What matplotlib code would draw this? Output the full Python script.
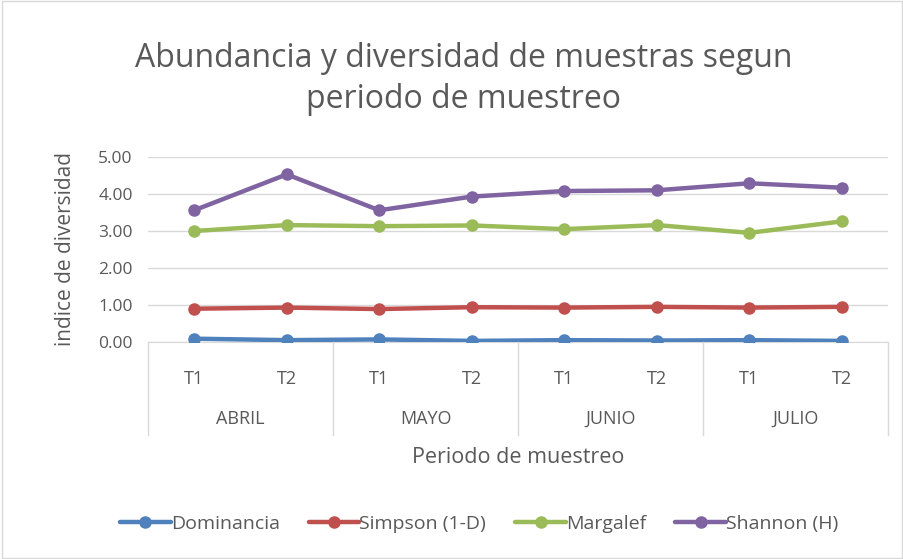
import matplotlib
matplotlib.use("Agg")
import matplotlib.pyplot as plt
from matplotlib.patches import Rectangle
from matplotlib.ticker import FormatStrFormatter
import matplotlib.transforms as mtransforms

# data
months = ["ABRIL", "MAYO", "JUNIO", "JULIO"]
periods = ["T1", "T2"]
dominancia = [0.09, 0.05, 0.07, 0.03, 0.05, 0.04, 0.05, 0.03]
simpson = [0.90, 0.93, 0.89, 0.94, 0.93, 0.95, 0.93, 0.95]
margalef = [3.00, 3.16, 3.13, 3.15, 3.05, 3.16, 2.95, 3.26]
shannon = [3.56, 4.53, 3.56, 3.93, 4.08, 4.10, 4.29, 4.17]

series = [
    ("Dominancia", dominancia, "#4F81BD"),
    ("Simpson (1-D)", simpson, "#C0504D"),
    ("Margalef", margalef, "#9BBB59"),
    ("Shannon (H)", shannon, "#8064A2"),
]

plt.rcParams["font.family"] = ["Open Sans", "DejaVu Sans"]
txt = "#595959"
grid = "#D9D9D9"

W, H = 904, 559
fig = plt.figure(figsize=(W / 100, H / 100), dpi=100)
fig.patches.append(Rectangle((0.002, 0.002), 0.996, 0.996, transform=fig.transFigure,
                             fill=False, edgecolor=grid, lw=1))

# plot area in pixels: left 148, right 888, top 157, bottom 342
ax = fig.add_axes([148 / W, 1 - 342 / H, 740 / W, 185 / H])
x = list(range(len(dominancia)))
for name, vals, col in series:
    ax.plot(x, vals, color=col, lw=3.2, marker="o", ms=8, label=name,
            solid_capstyle="round")

ax.set_xlim(-0.5, len(x) - 0.5)
ax.set_ylim(0, 5)
ax.set_yticks([0, 1, 2, 3, 4, 5])
ax.yaxis.set_major_formatter(FormatStrFormatter("%.2f"))
ax.tick_params(axis="y", length=0, labelsize=12.5, colors=txt, pad=11)
ax.set_xticks([])
ax.grid(axis="y", color=grid, lw=1)
ax.set_axisbelow(True)
for s in ["left", "right", "top"]:
    ax.spines[s].set_visible(False)
ax.spines["bottom"].set_color(grid)
ax.spines["bottom"].set_zorder(0)

# two-level category axis
trans = mtransforms.blended_transform_factory(ax.transData, ax.transAxes)
for i in range(len(x)):
    ax.text(i, -0.2, periods[i % 2], transform=trans, ha="center", va="center",
            fontsize=13, color=txt)
for j, m in enumerate(months):
    ax.text(2 * j + 0.5, -0.415, m, transform=trans, ha="center", va="center",
            fontsize=13, color=txt)
for b in range(len(months) + 1):
    ax.plot([2 * b - 0.5] * 2, [0, -0.505], transform=trans, color=grid, lw=1,
            clip_on=False)

ax.text(0.5, -0.625, "Periodo de muestreo", transform=ax.transAxes, ha="center",
        va="center", fontsize=15.5, color=txt)
ax.set_ylabel("indice de diversidad", fontsize=15, color=txt, labelpad=16)

fig.text(0.513, 1 - 79 / H, "Abundancia y diversidad de muestras segun\nperiodo de muestreo",
         ha="center", va="center", fontsize=23, color=txt, linespacing=1.3)

fig.legend(loc="center", bbox_to_anchor=(0.53, 1 - 524 / H), ncol=4, frameon=False,
           fontsize=14, labelcolor=txt, handlelength=2.6, handletextpad=0.0,
           columnspacing=1.5)

fig.savefig("out.png", dpi=100)
